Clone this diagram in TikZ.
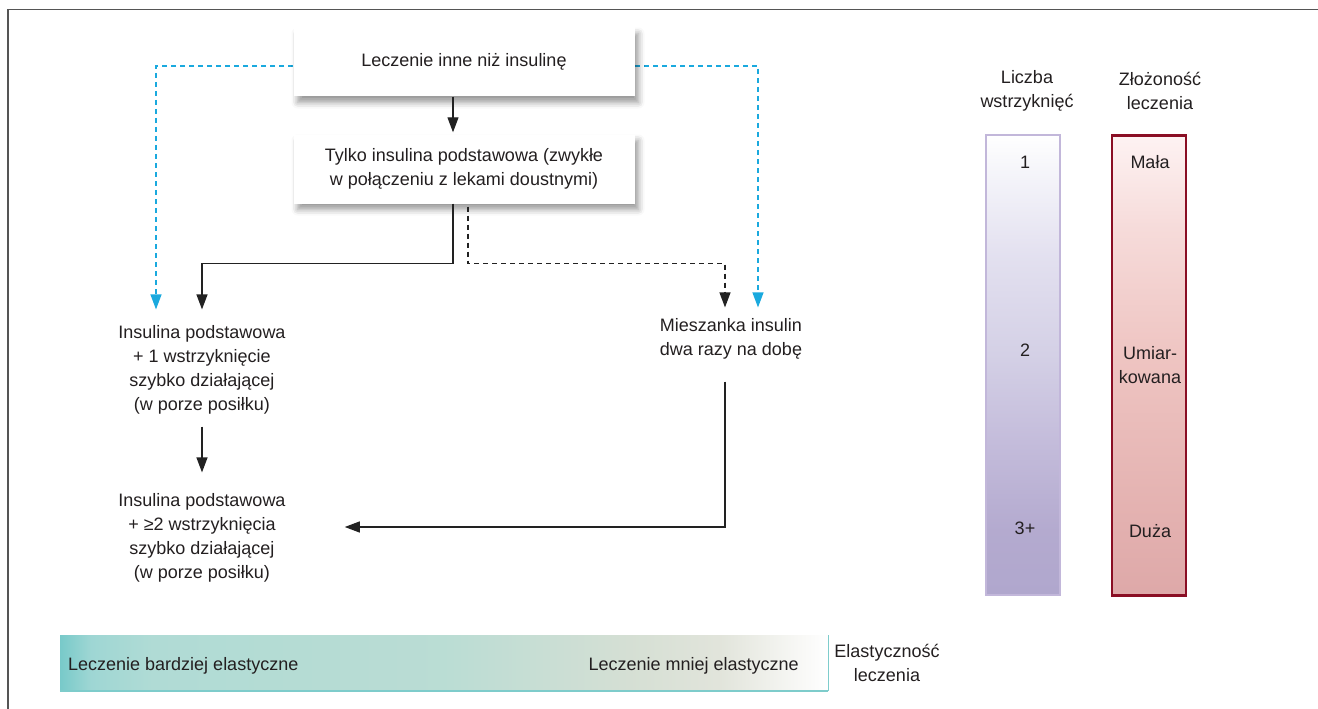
\documentclass[tikz,border=0pt]{standalone}
\usepackage{fontspec}
\setmainfont{Liberation Sans}
\usetikzlibrary{arrows.meta,shadows.blur}
\definecolor{txt}{HTML}{231F20}
\definecolor{cyanline}{HTML}{1AA9DE}
\definecolor{darkline}{HTML}{222222}
\definecolor{framegray}{HTML}{555555}
\definecolor{purpbord}{HTML}{C2B7DA}
\definecolor{redbord}{HTML}{8A0E24}
\definecolor{tealline}{HTML}{7ECCCB}
\pgfdeclarehorizontalshading{flexshade}{100bp}{%
  rgb(0bp)=(0.47,0.79,0.79);
  rgb(25bp)=(0.47,0.79,0.79);
  rgb(27bp)=(0.62,0.84,0.83);
  rgb(31bp)=(0.69,0.86,0.835);
  rgb(50bp)=(0.73,0.865,0.83);
  rgb(62bp)=(0.835,0.875,0.83);
  rgb(68bp)=(0.885,0.895,0.86);
  rgb(73bp)=(0.97,0.97,0.96);
  rgb(75bp)=(1,1,1);
  rgb(100bp)=(1,1,1)}
\pgfdeclareverticalshading{purpshade}{100bp}{%
  rgb(0bp)=(0.69,0.655,0.805);
  rgb(25bp)=(0.69,0.655,0.805);
  rgb(32bp)=(0.705,0.667,0.812);
  rgb(42bp)=(0.77,0.74,0.86);
  rgb(51bp)=(0.83,0.815,0.90);
  rgb(62bp)=(0.89,0.88,0.94);
  rgb(72bp)=(0.97,0.97,0.985);
  rgb(75bp)=(1,1,1);
  rgb(100bp)=(1,1,1)}
\pgfdeclareverticalshading{redshade}{100bp}{%
  rgb(0bp)=(0.87,0.66,0.66);
  rgb(25bp)=(0.87,0.66,0.66);
  rgb(35bp)=(0.895,0.70,0.695);
  rgb(51bp)=(0.935,0.77,0.76);
  rgb(65bp)=(0.965,0.86,0.855);
  rgb(75bp)=(0.995,0.95,0.95);
  rgb(100bp)=(0.995,0.95,0.95)}
\begin{document}
\begin{tikzpicture}[x=1pt,y=-1pt,
  font=\fontsize{18}{24}\selectfont,
  every node/.style={text=txt},
  topbox/.style={fill=white, minimum width=341pt, minimum height=69pt, align=center,
    blur shadow={shadow xshift=4pt,shadow yshift=-6pt,shadow blur radius=6pt,shadow opacity=40}},
  plain/.style={align=center, inner sep=0pt},
  arr/.style={draw=darkline, line width=1.2pt, -{Triangle[width=11pt,length=15pt]}},
  darr/.style={arr, dash pattern=on 5pt off 4pt},
  carr/.style={draw=cyanline, line width=1.2pt, dash pattern=on 5pt off 4pt,
    -{Triangle[width=11pt,length=15pt]}},
  purpbar/.style={draw=purpbord, line width=2pt, shading=purpshade,
    minimum width=74pt, minimum height=460pt, inner sep=0pt},
  redbar/.style={draw=redbord, line width=2.4pt, shading=redshade,
    minimum width=74pt, minimum height=460pt, inner sep=0pt},
  lab/.style={inner sep=0pt, align=center}
]
\useasboundingbox (0,0) rectangle (1318,709);
% frame
\draw[framegray, line width=1.5pt] (8,709) -- (8,9.5) -- (1318,9.5);

% flow nodes
\node[plain] (n1) at (202,370) {Insulina podstawowa\\+ 1 wstrzyknięcie\\szybko działającej\\(w porze posiłku)};
\node[plain] (n2) at (202,538) {Insulina podstawowa\\+ ≥2 wstrzyknięcia\\szybko działającej\\(w porze posiłku)};
\node[plain] (m) at (731,339) {Mieszanka insulin\\dwa razy na dobę};

% connectors
\draw[carr, shorten >=16pt] ([yshift=-4pt]464,62) -| ([xshift=-46pt]n1.north);
\draw[carr, shorten >=11pt] ([yshift=-4pt]464,62) -| ([xshift=27pt]m.north);

\node[topbox] (b1) at (464,62) {Leczenie inne niż insulinę};
\node[topbox] (b2) at (464,169) {Tylko insulina podstawowa (zwykłe\\w połączeniu z lekami doustnymi)};

\draw[arr] ([xshift=-11pt]b1.south) -- ([xshift=-11pt,yshift=2pt]b2.north);
\draw[arr, shorten >=16pt] ([xshift=-11pt]b2.south) -- ++(0,60) -| (n1.north);
\draw[darr, shorten >=11pt] ([xshift=4pt,yshift=-3pt]b2.south) -- ++(0,57) -| ([xshift=-6pt]m.north);
\draw[arr, shorten <=12pt, shorten >=21pt] (n1.south) -- (n2.north);
\draw[arr, shorten <=22pt, shorten >=59pt] ([xshift=-6pt]m.south) |- ([yshift=11pt]n2.east);

% right bars
\node[lab] (lw) at (1027,91) {Liczba\\wstrzyknięć};
\node[lab] (lz) at (1160,91) {Złożoność\\leczenia};
\node[purpbar] (pb) at (1023,365) {};
\node[redbar] (rb) at (1149,365.5) {};
\node[lab] (p1) at (1025,162) {1};
\node[lab] (p2) at (1025,350) {2};
\node[lab] (p3) at (1025,528) {3+};
\node[lab] (r1) at (1150,162) {Mała};
\node[lab] (r2) at (1150,365) {Umiar-\\kowana};
\node[lab] (r3) at (1150,531) {Duża};

% bottom bar
\node[shading=flexshade, minimum width=768pt, minimum height=56pt, inner sep=0pt] (fb) at (444,663) {};
\draw[tealline, line width=2pt] (fb.south west) -- (fb.south east);
\draw[tealline, line width=1.2pt] (fb.south east) -- (fb.north east);
\node[inner sep=0pt, anchor=base west] (fl) at (68,670) {Leczenie bardziej elastyczne};
\node[inner sep=0pt, anchor=base east] (fr) at (799,670) {Leczenie mniej elastyczne};
\node[lab] (fe) at (887,663) {Elastyczność\\leczenia};
\end{tikzpicture}
\end{document}
